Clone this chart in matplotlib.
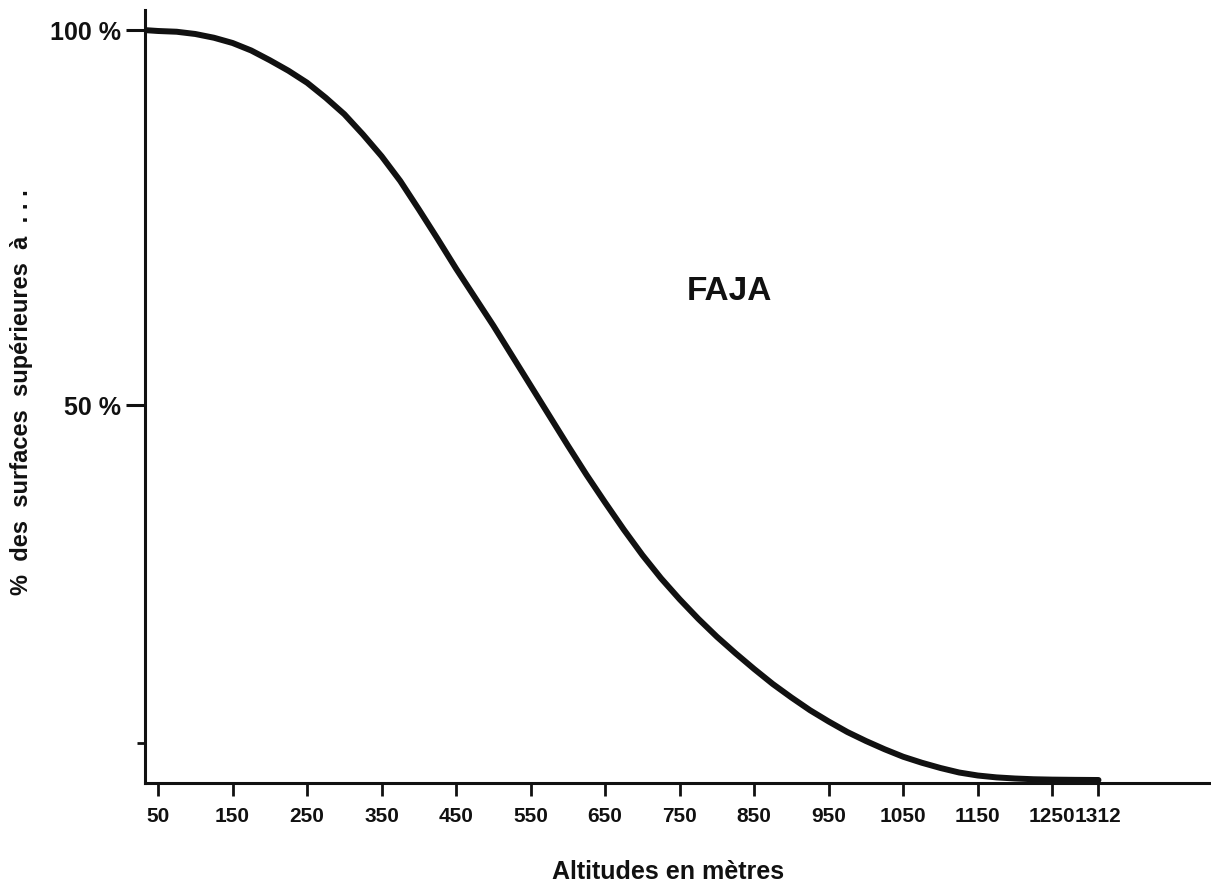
import matplotlib
matplotlib.use("Agg")
import matplotlib.pyplot as plt
from matplotlib.ticker import FixedLocator

plt.rcParams['font.family'] = ['Liberation Sans', 'DejaVu Sans']

# Hypsometric curve of the Faja basin: share of area above each altitude (m)
altitudes = [35, 50, 75, 100, 125, 150, 175, 200, 225, 250, 275, 300, 325,
             350, 375, 400, 425, 450, 475, 500, 525, 550, 575, 600, 625, 650,
             675, 700, 725, 750, 775, 800, 825, 850, 875, 900, 925, 950, 975,
             1000, 1025, 1050, 1075, 1100, 1125, 1150, 1175, 1200, 1225, 1250,
             1280, 1312]
pct_above = [100.0, 99.9, 99.8, 99.5, 99.0, 98.3, 97.3, 96.0, 94.6, 93.0,
             91.0, 88.8, 86.1, 83.2, 79.9, 76.1, 72.2, 68.2, 64.4, 60.6, 56.6,
             52.6, 48.6, 44.6, 40.7, 37.0, 33.4, 30.0, 26.9, 24.1, 21.5, 19.1,
             16.9, 14.8, 12.8, 11.0, 9.3, 7.8, 6.4, 5.2, 4.1, 3.1, 2.3, 1.6,
             1.0, 0.6, 0.35, 0.2, 0.1, 0.05, 0.02, 0.0]

x_ticks = [50, 150, 250, 350, 450, 550, 650, 750, 850, 950, 1050, 1150, 1250, 1312]
x_tick_labels = [str(v) for v in x_ticks]
y_ticks = [50, 100]
y_tick_labels = ['50 %', '100 %']
y_minor_ticks = [5]

W, H = 1211, 884
fig = plt.figure(figsize=(W / 100, H / 100), dpi=100)
ax = fig.add_axes([145 / W, (H - 783) / H, (W - 145) / W, 773 / H])

ink = '#111111'
ax.plot(altitudes, pct_above, color=ink, lw=4.3, solid_capstyle='round',
        solid_joinstyle='round', clip_on=False, zorder=3)

ax.set_xlim(32.5, 1463)
ax.set_ylim(-0.4, 102.7)

for side in ('top', 'right'):
    ax.spines[side].set_visible(False)
for side in ('left', 'bottom'):
    ax.spines[side].set_linewidth(2.2)
    ax.spines[side].set_color(ink)

ax.set_xticks(x_ticks)
ax.set_xticklabels(x_tick_labels, fontsize=15, fontweight='heavy', color=ink)
ax.tick_params(axis='x', direction='out', length=9, width=2, color=ink, pad=8)

ax.set_yticks(y_ticks)
ax.set_yticklabels(y_tick_labels, fontsize=18, fontweight='heavy', color=ink)
ax.yaxis.set_minor_locator(FixedLocator(y_minor_ticks))
ax.tick_params(axis='y', which='major', direction='out', length=14, width=2.2,
               color=ink, pad=3)
ax.tick_params(axis='y', which='minor', direction='out', length=6, width=2,
               color=ink)

fig.text(729 / W, 1 - 292 / H, 'FAJA', fontsize=24, fontweight='heavy',
         color=ink, ha='center', va='center')
fig.text(668 / W, 1 - 872 / H, 'Altitudes en mètres', fontsize=18,
         fontweight='heavy', color=ink, ha='center', va='center')
fig.text(22 / W, 1 - 392 / H, '%  des  surfaces  supérieures  à  . . .',
         fontsize=17, fontweight='heavy', color=ink, ha='center', va='center',
         rotation=90)

fig.savefig('out.png', dpi=100, facecolor='white')
